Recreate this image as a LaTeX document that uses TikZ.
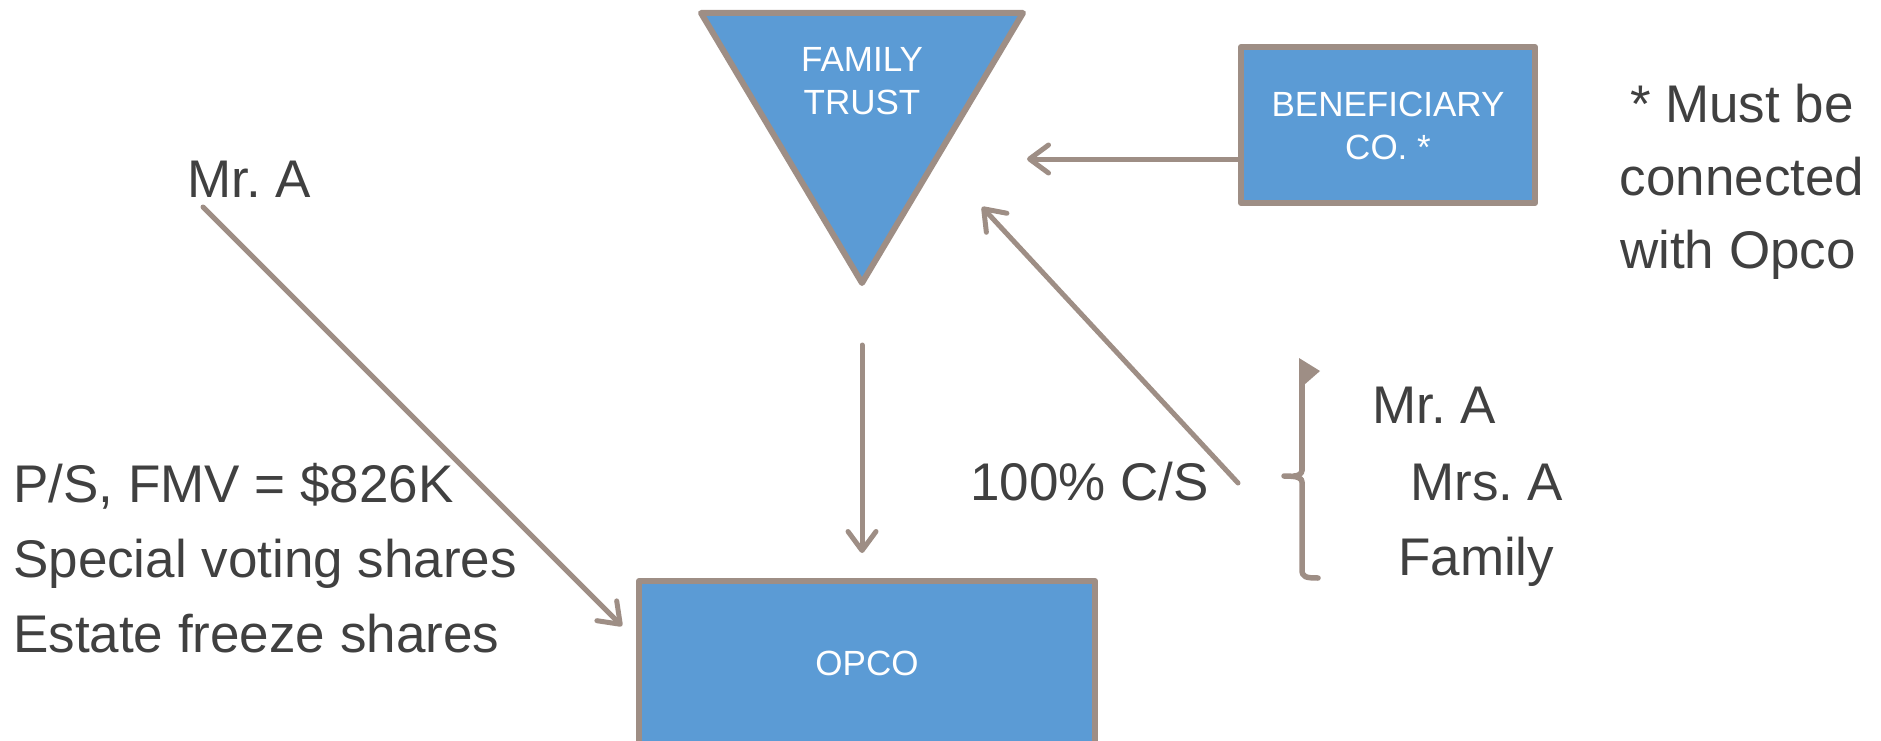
\documentclass[tikz,border=0pt]{standalone}
\usepackage{fontspec}
\setmainfont{Liberation Sans}
\usetikzlibrary{arrows.meta}
\definecolor{edge}{HTML}{9E8E85}
\definecolor{boxblue}{HTML}{5B9BD5}
\definecolor{ink}{HTML}{404040}
\frenchspacing

\begin{document}
\begin{tikzpicture}[x=1pt,y=-1pt,
  entity/.style={draw=edge, fill=boxblue, line width=6pt, line join=round, inner sep=0pt},
  bigtext/.style={text=ink, font=\fontsize{53}{60}\selectfont, inner sep=0pt, anchor=base west},
  notetext/.style={text=ink, font=\fontsize{53}{60}\selectfont, inner sep=0pt, anchor=base},
  boxtext/.style={text=white, font=\fontsize{35}{40}\selectfont, inner sep=0pt, anchor=base},
  link/.style={draw=edge, line width=5pt, line cap=round,
    -{Straight Barb[length=19pt,width=28pt,round]}}
]
\useasboundingbox (0,0) rectangle (1881,741);
\begin{scope}
\clip (0,0) rectangle (1881,741);

% family trust (inverted triangle)
\coordinate (trustL) at (701,13);
\coordinate (trustR) at (1023,13);
\coordinate (trustB) at (862,283);
\draw[entity] (trustL) -- (trustR) -- (trustB) -- cycle;
\node[boxtext] (trust1) at (862,72) {FAMILY};
\node[boxtext] (trust2) at (862,114) {TRUST};

% beneficiary company
\node[entity, minimum width=294pt, minimum height=156pt] (ben) at (1388,125) {};
\node[boxtext] (ben1) at (1388,117) {BENEFICIARY};
\node[boxtext] (ben2) at (1388,160) {CO. *};

% operating company (runs off the bottom edge)
\draw[entity] (639,581) rectangle (1095,770);
\coordinate (opco) at (867,660);
\node[boxtext] (opcotext) at (867,675) {OPCO};

% left side labels
\node[bigtext] (mra) at (187,197) {Mr. A};
\node[bigtext] (ps) at (13,502) {P/S, FMV = \$826K};
\node[bigtext] (svs) at (13,577) {Special voting shares};
\node[bigtext] (efs) at (13,652) {Estate freeze shares};

% common shares labels
\node[bigtext] (cs) at (970,500) {100\% C/S};
\node[bigtext] (mra2) at (1372,423) {Mr. A};
\node[bigtext] (mrsa) at (1410,500) {Mrs. A};
\node[bigtext] (fam) at (1398,575) {Family};

% note
\node[notetext] (note1) at (1742,123) {* Must be};
\node[notetext] (note2) at (1742,195) {connected};
\node[notetext] (note3) at (1738,268) {with Opco};

% connector end points
\coordinate (mraFrom) at (203,207);
\coordinate (mraTo) at (622,626);
\coordinate (trustFrom) at (862,345);
\coordinate (trustTo) at (862,553);
\coordinate (benTo) at (1027,159);
\coordinate (csFrom) at (1238,483);
\coordinate (csTo) at (982,207);

\draw[link] (mraFrom) -- (mraTo);
\draw[link] (trustFrom) -- (trustTo);
\draw[link] (ben.west |- benTo) -- (benTo);
\draw[link] (csFrom) -- (csTo);

% brace grouping the shareholders
\draw[edge, line width=5.5pt, line cap=round, line join=round]
  (1318,578) .. controls (1306,578) and (1302,577) .. (1302,570)
  -- (1302,482) .. controls (1302,478) and (1298,476) .. (1284,476);
\draw[edge, line width=5.5pt, line cap=round, line join=round]
  (1302,470) .. controls (1302,474) and (1298,476) .. (1294,476);
\draw[edge, line width=5.5pt, line cap=round] (1302,470) -- (1302,374);
\fill[edge] (1299,358) -- (1320,371) -- (1304,385) -- (1299,385) -- cycle;
\end{scope}
\end{tikzpicture}
\end{document}
